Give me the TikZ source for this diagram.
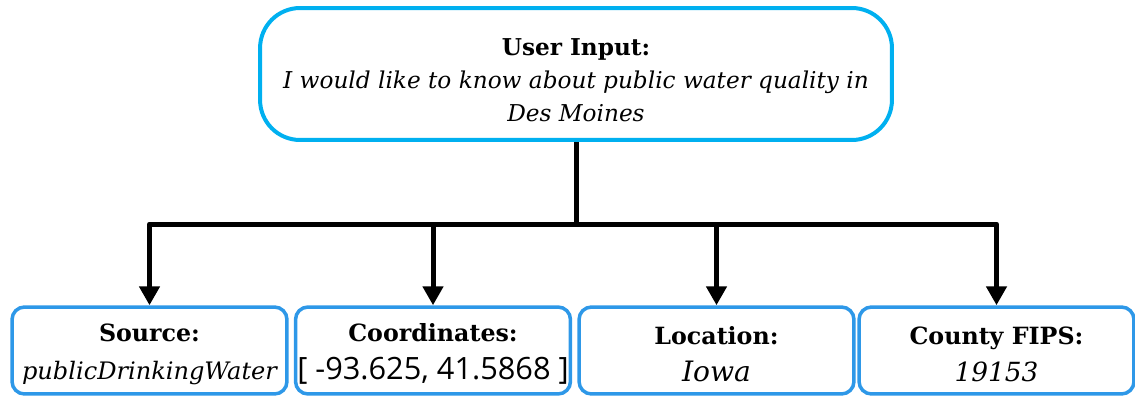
\documentclass[tikz,border=0pt]{standalone}
\usepackage{fontspec}
\setmainfont{DejaVu Serif}
\newfontfamily\numfont{Open Sans}
\usetikzlibrary{arrows.meta}

\definecolor{inputblue}{RGB}{0,176,240}
\definecolor{fieldblue}{RGB}{46,152,232}

\begin{document}
\begin{tikzpicture}[x=0.02cm, y=-0.02cm,
    >={Triangle[length=0.38cm, width=0.4cm]},
    inputbox/.style={draw=inputblue, line width=0.08cm, rounded corners=0.8cm,
        minimum width=12.64cm, minimum height=2.64cm, align=center, inner sep=0pt,
        font=\fontsize{13.2}{18.8}\selectfont},
    fieldbox/.style={draw=fieldblue, line width=0.07cm, rounded corners=0.25cm,
        minimum width=5.5cm, minimum height=1.74cm, align=center, inner sep=0pt,
        font=\fontsize{13.5}{21.5}\selectfont},
    link/.style={line width=0.1cm, line join=round}]

    \useasboundingbox (0,0) rectangle (1135,396);

    % Vorgaben
    \def\rowy{350.5}
    \def\topstrut{\rule{0pt}{17pt}}
    \def\rowstrut{\rule{0pt}{14.5pt}}

    % Eingabe
    \node[inputbox] (input) at (576,74)
        {\topstrut\textbf{User Input:}\\
         \itshape I would like to know about public water quality in\\
         \itshape Des Moines};

    % Felder
    \node[fieldbox] (source) at (149.5,\rowy)
        {\rowstrut\textbf{Source:}\\
         \fontsize{13.7}{21.5}\selectfont\itshape publicDrinkingWater};
    \node[fieldbox] (coords) at (433,\rowy)
        {\rowstrut\textbf{Coordinates:}\\
         \fontsize{17.5}{21.5}\selectfont\numfont [ -93.625, 41.5868 ]};
    \node[fieldbox] (location) at (716.5,\rowy)
        {\rowstrut\textbf{Location:}\\
         \fontsize{16}{21.5}\selectfont\itshape Iowa};
    \node[fieldbox] (fips) at (996.5,\rowy)
        {\rowstrut\textbf{County FIPS:}\\
         \fontsize{15}{21.5}\selectfont\itshape 19153};

    % Verbindungen
    \coordinate (fork) at (576,224);
    \draw[link] (input) -- (fork);
    \draw[link, ->] (fork) -| (source);
    \draw[link, ->] (fork) -| (coords);
    \draw[link, ->] (fork) -| (location);
    \draw[link, ->] (fork) -| (fips);

\end{tikzpicture}
\end{document}
